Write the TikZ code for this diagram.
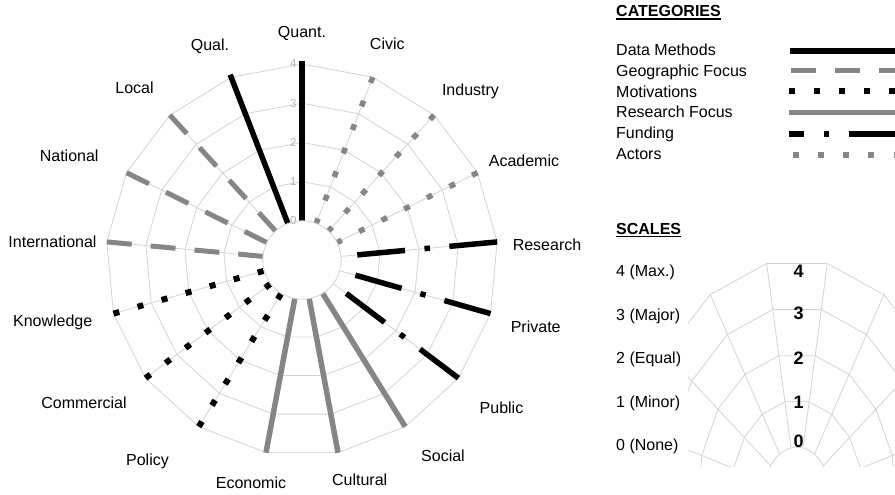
\documentclass[tikz,border=0pt]{standalone}
\usepackage{fontspec}
\setmainfont{Liberation Sans}
\usetikzlibrary{calc}
\definecolor{gridgray}{HTML}{D2D2D2}
\definecolor{catgray}{HTML}{868686}
\definecolor{numgray}{HTML}{B4B4B4}
\tikzset{
  gridline/.style={draw=gridgray, line width=0.8pt},
  datam/.style={draw=black, line width=5.5pt, line cap=rect},
  geo/.style={draw=catgray, line width=5pt, dash pattern=on 25pt off 19pt},
  motiv/.style={draw=black, line width=6pt, dash pattern=on 6pt off 19pt},
  resf/.style={draw=catgray, line width=5.5pt},
  fund/.style={draw=black, line width=5.5pt, dash pattern=on 48pt off 19.5pt on 5.5pt off 19.5pt},
  actor/.style={draw=catgray, line width=5.5pt, dash pattern=on 6pt off 19.25pt},
  lab/.style={anchor=base, inner sep=0pt},
  leg/.style={anchor=base west, inner sep=0pt},
  hdr/.style={anchor=base west, inner sep=0pt, font=\fontsize{16}{19}\selectfont\bfseries},
  numlab/.style={inner sep=0pt, text=numgray, font=\fontsize{11.5}{13}\selectfont},
  scalenum/.style={anchor=base, inner sep=0pt, font=\fontsize{18}{21}\selectfont\bfseries}
}
\begin{document}
\begin{tikzpicture}[x=1pt, y=-1pt, font=\fontsize{16}{19}\selectfont]
\useasboundingbox (0,0) rectangle (895,495);

% ---------------- main radar chart ----------------
\begin{scope}[shift={(302,260)}]
  \coordinate (C) at (0,0);
  \foreach \k in {1,...,4} {
    \draw[gridline] (-90:{39.2*(\k+1)})
      \foreach \i in {1,...,16} { -- ({-90+\i*360/17}:{39.2*(\k+1)}) } -- cycle;
  }
  \foreach \i in {0,...,16} {
    \coordinate (o\i) at ({-90+\i*360/17}:196);
    \draw[gridline] (C) -- (o\i);
  }
  \foreach \i/\s in {0/datam,1/actor,2/actor,3/actor,4/fund,5/fund,6/fund,
                     7/resf,8/resf,9/resf,10/motiv,11/motiv,12/motiv,
                     13/geo,14/geo,15/geo,16/datam} {
    \draw[\s] (o\i) -- (C);
  }
  \fill[white] (C) circle (39.2pt);
  \draw[gridline] (C) circle (39.2pt);
  \foreach \k in {0,...,4} {
    \node[numlab] (n\k) at (-8.7,{-39.2*(\k+1)}) {\k};
  }
\end{scope}

% axis labels
\node[lab] (lQuant) at (302,37.5) {Quant.};
\node[lab] (lCivic) at (387.3,50) {Civic};
\node[lab] (lIndustry) at (470.5,95.6) {Industry};
\node[lab] (lAcademic) at (524,166.6) {Academic};
\node[lab] (lResearch) at (547,250) {Research};
\node[lab] (lPrivate) at (535.7,332.3) {Private};
\node[lab] (lPublic) at (501.5,413.3) {Public};
\node[lab] (lSocial) at (443,461.6) {Social};
\node[lab] (lCultural) at (359.7,485) {Cultural};
\node[lab] (lEconomic) at (251,488.3) {Economic};
\node[lab] (lPolicy) at (147.5,465) {Policy};
\node[lab] (lCommercial) at (84,408.3) {Commercial};
\node[lab] (lKnowledge) at (52.7,326.6) {Knowledge};
\node[lab] (lInternational) at (52.5,247.6) {International};
\node[lab] (lNational) at (69.2,161.6) {National};
\node[lab] (lLocal) at (134.5,93.3) {Local};
\node[lab] (lQual) at (210,50.5) {Qual.};

% ---------------- categories legend ----------------
\node[hdr] (hCat) at (616,16.7) {CATEGORIES};
\draw[line width=1.4pt] ([yshift=-2.4pt]hCat.base west) -- ([yshift=-2.4pt]hCat.base east);

\node[leg] (tDM) at (616,56) {Data Methods};
\node[leg] (tGF) at (616,76.6) {Geographic Focus};
\node[leg] (tMo) at (616,97.2) {Motivations};
\node[leg] (tRF) at (616,117.8) {Research Focus};
\node[leg] (tFu) at (616,138.4) {Funding};
\node[leg] (tAc) at (616,159) {Actors};

\coordinate (s1) at (790,51);    \coordinate (e1) at (905,51);
\coordinate (s2) at (790.7,71);  \coordinate (e2) at (905,71);
\coordinate (s3) at (789.3,91);  \coordinate (e3) at (905,91);
\coordinate (s4) at (789,112.5); \coordinate (e4) at (905,112.5);
\coordinate (s5) at (789.3,134); \coordinate (e5) at (905,134);
\coordinate (s6) at (792.7,155); \coordinate (e6) at (905,155);
\draw[datam, line cap=butt] (s1) -- (e1);
\draw[geo] (s2) -- (e2);
\draw[motiv] (s3) -- (e3);
\draw[resf] (s4) -- (e4);
\draw[fund, dash phase=33pt] (s5) -- (e5);
\draw[actor] (s6) -- (e6);

% ---------------- scales ----------------
\node[hdr] (hSc) at (616,234) {SCALES};
\draw[line width=1.4pt] ([yshift=-2.4pt]hSc.base west) -- ([yshift=-2.4pt]hSc.base east);

\node[leg] (sc4) at (616,276.7) {4 (Max.)};
\node[leg] (sc3) at (616,320.2) {3 (Major)};
\node[leg] (sc2) at (616,363.7) {2 (Equal)};
\node[leg] (sc1) at (616,407.2) {1 (Minor)};
\node[leg] (sc0) at (616,450.7) {0 (None)};

\begin{scope}
  \clip (688,240) rectangle (900,466.5);
  \begin{scope}[shift={(797,494)}, x=33pt, y=-46.9pt]
    \coordinate (S) at (0,0);
    \foreach \k in {2,...,5} {
      \draw[gridline] ({-90+180/17}:\k)
        \foreach \i in {1,...,16} { -- ({-90+180/17+\i*360/17}:\k) } -- cycle;
    }
    \foreach \i in {0,...,16} {
      \coordinate (so\i) at ({-90+180/17+\i*360/17}:5);
      \draw[gridline] (S) -- (so\i);
    }
    \fill[white] (S) ellipse [x radius=33pt, y radius=46.9pt];
    \draw[gridline] (S) ellipse [x radius=33pt, y radius=46.9pt];
  \end{scope}
\end{scope}

\node[scalenum] (d4) at (798.5,277.5) {4};
\node[scalenum] (d3) at (798.5,319.5) {3};
\node[scalenum] (d2) at (798.5,364.5) {2};
\node[scalenum] (d1) at (798.5,408.5) {1};
\node[scalenum] (d0) at (798.5,447.5) {0};
\end{tikzpicture}
\end{document}
